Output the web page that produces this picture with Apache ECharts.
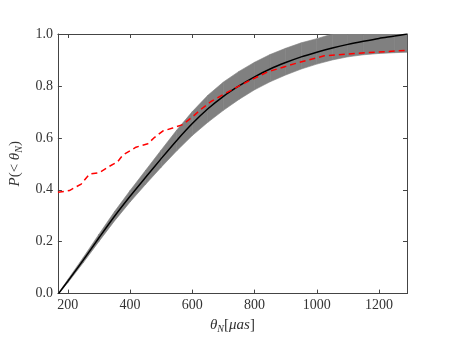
<!DOCTYPE html>
<html>
<head>
<meta charset="utf-8">
<script src="https://cdn.jsdelivr.net/npm/echarts@6/dist/echarts.min.js"></script>
<style>
  html, body { margin: 0; padding: 0; background: #fff; }
  #chart { width: 452px; height: 339px; }
</style>
</head>
<body>
<div id="chart"></div>
<script>
// model curve and its band
var xModel = [170, 200, 250, 300, 350, 400, 450, 500, 550, 600, 650, 700, 750, 800,
  850, 900, 950, 1000, 1050, 1100, 1150, 1200, 1250, 1290];
var pModel = [0.0, 0.048, 0.13, 0.215, 0.298, 0.375, 0.448, 0.52, 0.59, 0.655, 0.712, 0.76,
  0.80, 0.835, 0.865, 0.89, 0.912, 0.93, 0.946, 0.96, 0.972, 0.983, 0.992, 1.0];
var pLower = [0.0, 0.042, 0.12, 0.201, 0.28, 0.353, 0.421, 0.487, 0.55, 0.609, 0.66, 0.706,
  0.748, 0.785, 0.816, 0.842, 0.865, 0.884, 0.90, 0.912, 0.92, 0.925, 0.928, 0.93];
var pUpper = [0.002, 0.054, 0.14, 0.229, 0.316, 0.397, 0.475, 0.553, 0.63, 0.701, 0.764, 0.815,
  0.856, 0.891, 0.921, 0.945, 0.966, 0.982, 1.0, 1.015, 1.028, 1.04, 1.05, 1.06];

// observed (red dashed)
var xObs = [168, 205, 243, 269, 301, 333, 360, 376, 419, 457, 478, 505, 537, 569, 601,
  628, 660, 692, 735, 778, 842, 927, 1024, 1131, 1291];
var pObs = [0.39, 0.397, 0.422, 0.46, 0.466, 0.49, 0.508, 0.533, 0.564, 0.577, 0.601,
  0.626, 0.638, 0.651, 0.681, 0.71, 0.74, 0.762, 0.79, 0.817, 0.854, 0.885, 0.916, 0.926, 0.937];

var xTicks = [200, 400, 600, 800, 1000, 1200];

var pairs = function(xs, ys) {
  return xs.map(function(x, i) { return [x, ys[i]]; });
};

var chart = echarts.init(document.getElementById('chart'));
var font = "'Liberation Serif', 'DejaVu Serif', serif";
var frame = { show: true, onZero: false, lineStyle: { color: '#444', width: 1 } };

// band drawn as one quad per segment, through the axis scales
var renderBand = function(params, api) {
  var i = params.dataIndex;
  if (i >= xModel.length - 1) return null;
  var pts = [
    api.coord([xModel[i], pLower[i]]),
    api.coord([xModel[i + 1], pLower[i + 1]]),
    api.coord([xModel[i + 1], pUpper[i + 1]]),
    api.coord([xModel[i], pUpper[i]])
  ];
  return {
    type: 'polygon',
    shape: { points: pts },
    style: { fill: '#808080', stroke: '#808080', lineWidth: 0.6 }
  };
};

var option = {
  animation: false,
  textStyle: { fontFamily: font },
  grid: { left: 56, right: 45, top: 34, bottom: 35, containLabel: false },
  xAxis: [{
    type: 'value', min: 168, max: 1290, position: 'bottom',
    axisLine: frame,
    axisTick: { show: true, inside: true, length: 4, customValues: xTicks, lineStyle: { color: '#444' } },
    axisLabel: {
      customValues: xTicks, fontFamily: font, fontSize: 14, color: '#333', margin: 5,
      formatter: function(v) { return String(v); }
    },
    splitLine: { show: false },
    name: '{i|θ}{s|N}{n|[}{i|μas}{n|]}',
    nameLocation: 'middle', nameGap: 22,
    nameTextStyle: {
      rich: {
        i: { fontFamily: font, fontStyle: 'italic', fontSize: 15, color: '#333' },
        n: { fontFamily: font, fontSize: 15, color: '#333' },
        s: { fontFamily: font, fontStyle: 'italic', fontSize: 10, color: '#333', padding: [8, 0, 0, 0] }
      }
    }
  }, {
    type: 'value', min: 168, max: 1290, position: 'top',
    axisLine: frame,
    axisTick: { show: true, inside: true, length: 4, customValues: xTicks, lineStyle: { color: '#444' } },
    axisLabel: { show: false },
    splitLine: { show: false }
  }],
  yAxis: [{
    type: 'value', min: 0, max: 1, interval: 0.2, position: 'left',
    axisLine: frame,
    axisTick: { show: true, inside: true, length: 4, lineStyle: { color: '#444' } },
    axisLabel: {
      fontFamily: font, fontSize: 14, color: '#333', margin: 5,
      formatter: function(v) { return v.toFixed(1); }
    },
    splitLine: { show: false },
    name: '{i|P}{n|(< }{i|θ}{s|N}{n|)}',
    nameLocation: 'middle', nameGap: 30, nameRotate: 90,
    nameTextStyle: {
      rich: {
        i: { fontFamily: font, fontStyle: 'italic', fontSize: 15, color: '#333' },
        n: { fontFamily: font, fontSize: 15, color: '#333' },
        s: { fontFamily: font, fontStyle: 'italic', fontSize: 10, color: '#333', padding: [8, 0, 0, 0] }
      }
    }
  }, {
    type: 'value', min: 0, max: 1, interval: 0.2, position: 'right',
    axisLine: frame,
    axisTick: { show: true, inside: true, length: 4, lineStyle: { color: '#444' } },
    axisLabel: { show: false },
    splitLine: { show: false }
  }],
  series: [
    {
      type: 'custom', clip: true, silent: true,
      renderItem: renderBand,
      data: pairs(xModel, pModel),
      z: 1
    },
    {
      type: 'line', symbol: 'none', smooth: 0.3,
      data: pairs(xModel, pModel),
      lineStyle: { color: '#000', width: 1.5 },
      z: 3
    },
    {
      type: 'line', symbol: 'none',
      data: pairs(xObs, pObs),
      lineStyle: { color: '#ff0000', width: 1.5, type: [6, 4] },
      z: 4
    }
  ]
};

option && chart.setOption(option);
</script>
</body>
</html>
